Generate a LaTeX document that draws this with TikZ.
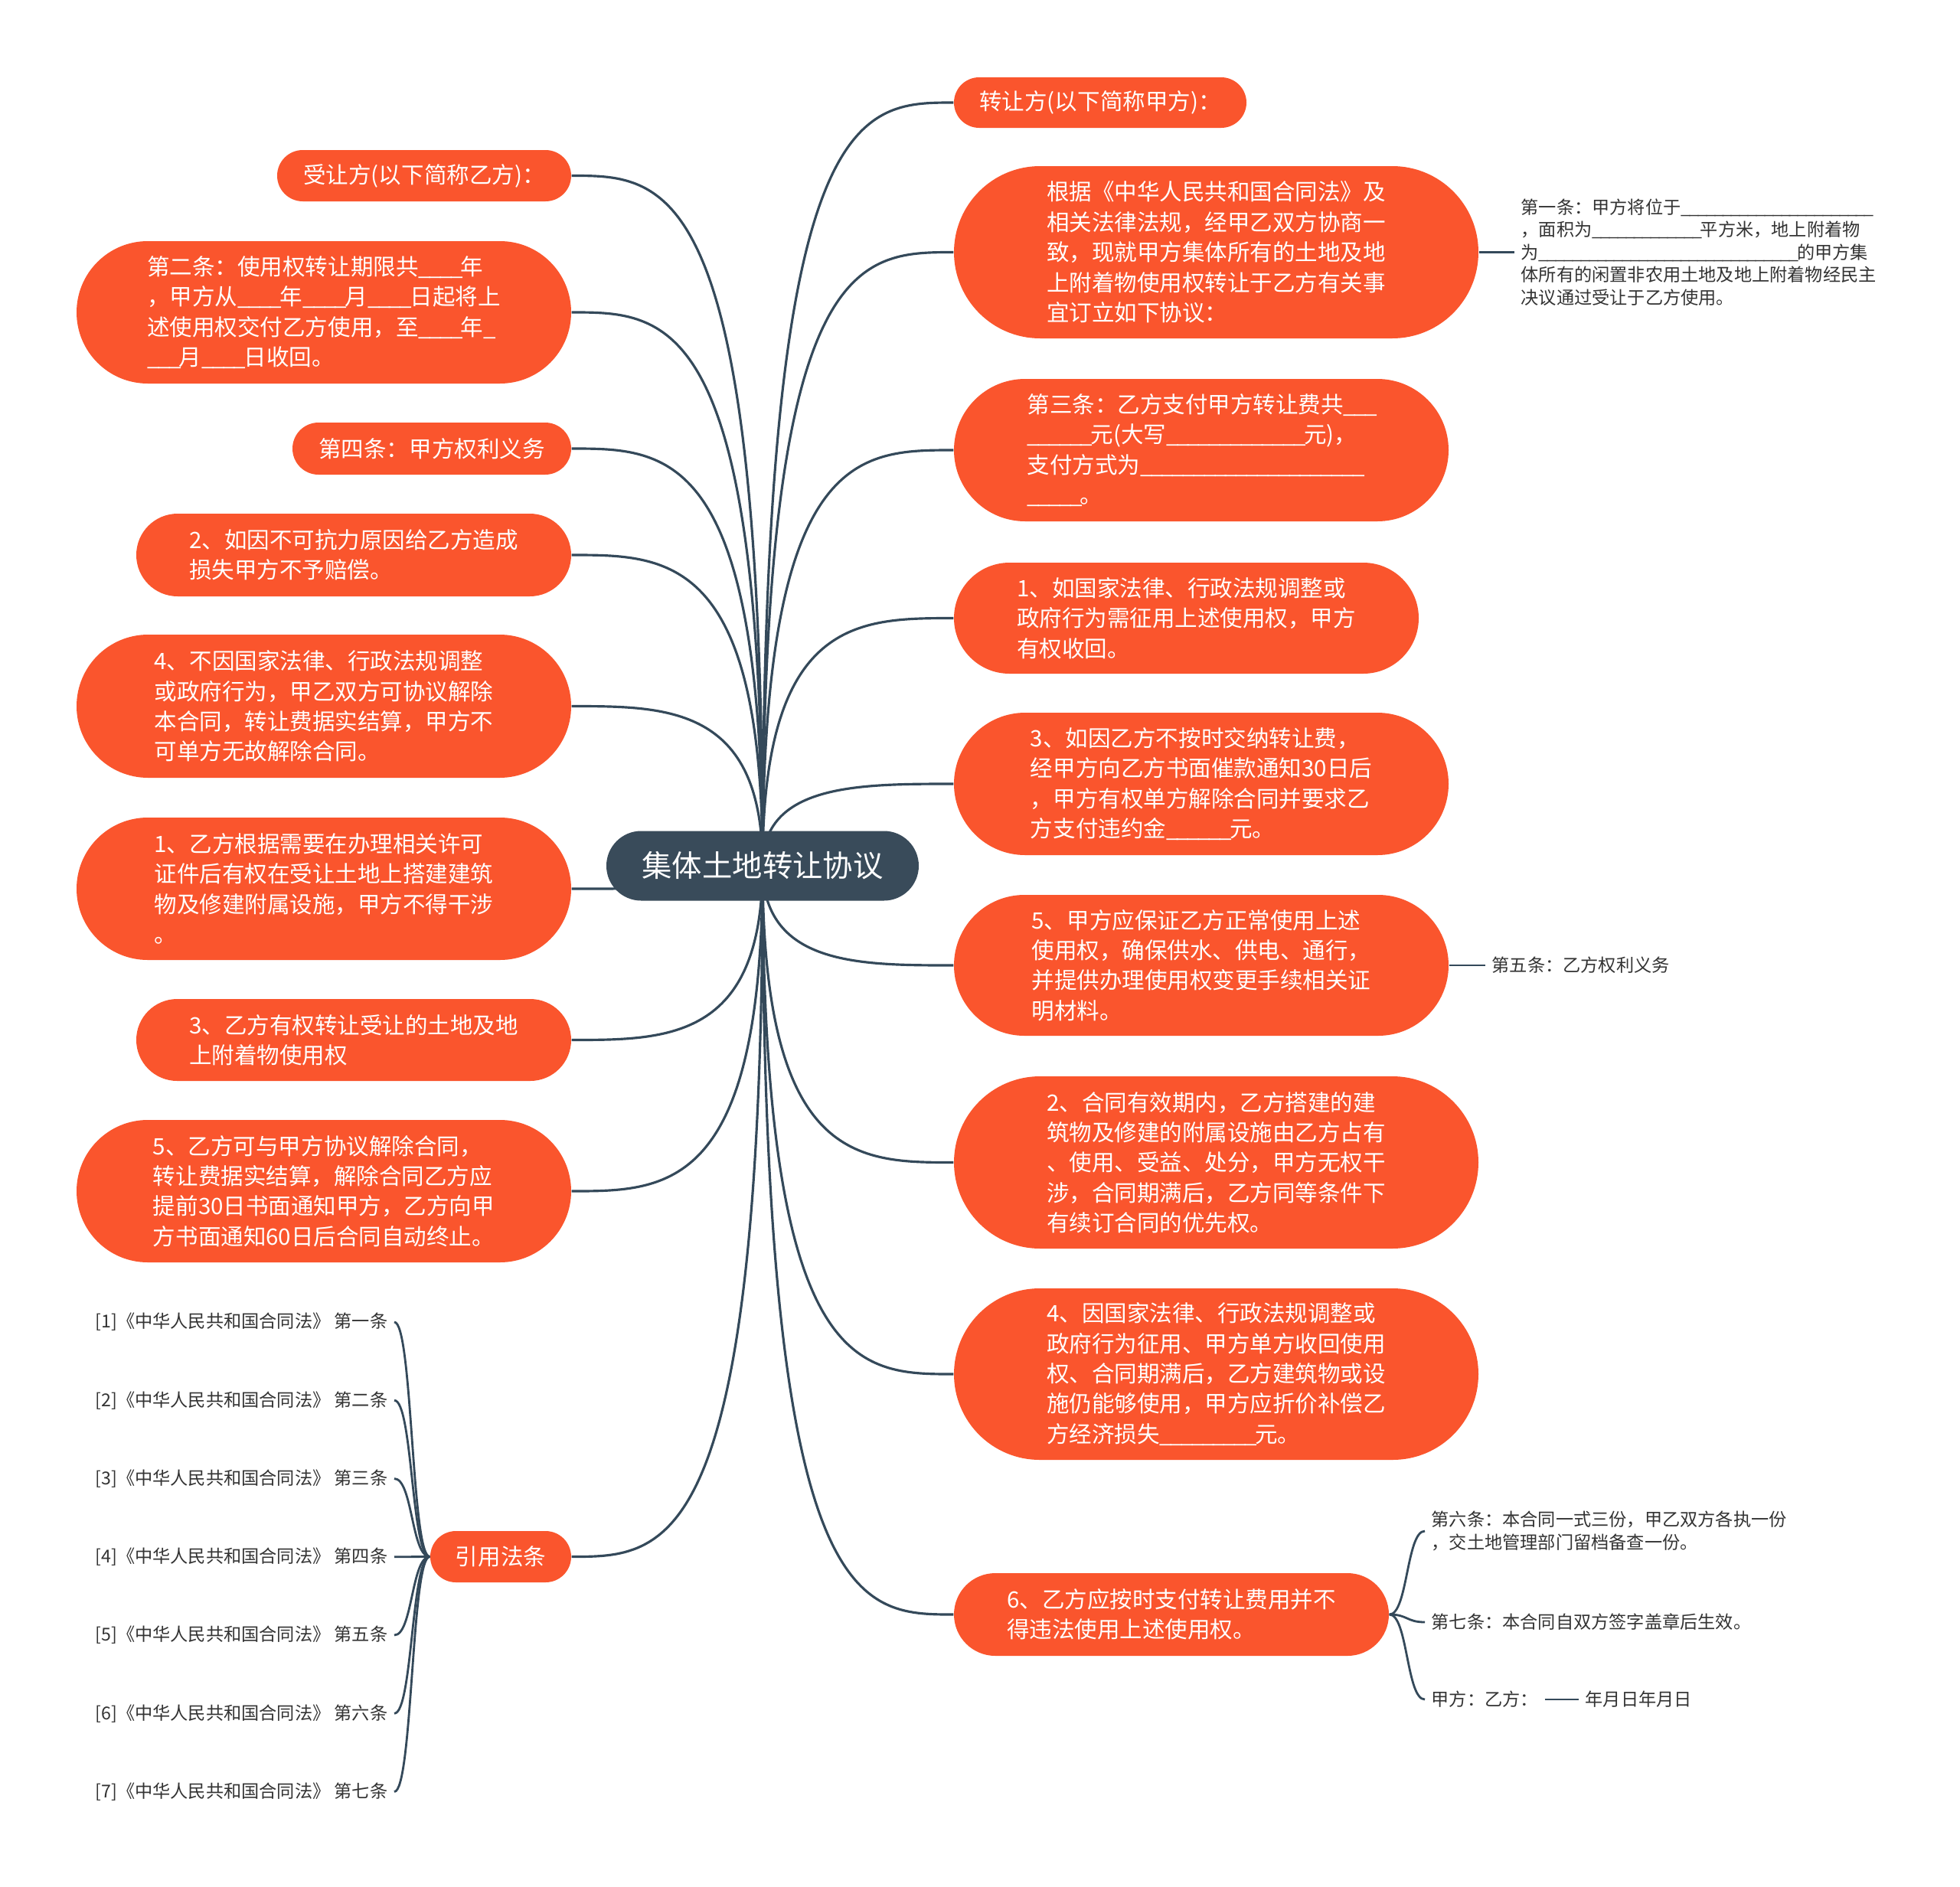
\documentclass[tikz,border=0pt]{standalone}
\usepackage{fontspec}
\setmainfont{Noto Sans CJK SC}
\usetikzlibrary{
  shapes.misc,
  calc,
  backgrounds
}
\definecolor{tdRoot}{HTML}{394B5A}
\definecolor{tdTopic}{HTML}{FA552D}
\definecolor{tdLine}{HTML}{34495A}
\definecolor{tdText}{HTML}{333333}
% a run of n underscores for the blanks of the contract
\newcommand\ublank[1]{\ifnum#1>0 \_\kern-0.09em\expandafter\ublank\expandafter{\the\numexpr#1-1\relax}\fi}
\newcommand\topicfont{\fontsize{8.4pt}{11.2pt}\selectfont}
\newcommand\leaffont{\fontsize{6.6pt}{8.4pt}\selectfont}
\tikzset{
  tdnode/.style={rounded rectangle, inner sep=0pt, align=left, text=white},
  rootnode/.style={tdnode, fill=tdRoot, font=\fontsize{11.2pt}{13pt}\selectfont,
    minimum width=4.08cm, minimum height=0.91cm},
  topic/.style 2 args={tdnode, fill=tdTopic, font=\topicfont,
    minimum width=#1cm, minimum height=#2cm},
  leaf/.style={inner sep=0.08cm, align=left, text=tdText, font=\leaffont},
  branch/.style={draw=tdLine, line width=0.9pt},
  twig/.style={draw=tdLine, line width=0.8pt}
}

\begin{document}
\begin{tikzpicture}
  \begin{scope}[on background layer]
    \path[use as bounding box, fill=white] (0,0) rectangle (25.6,-24.65);
  \end{scope}

  \node[rootnode] (root) at (9.96,-11.31) {集体土地转让协议};

  % right side
  \node[topic={3.82}{0.66}] (r1) at (14.37,-1.34) {转让方(以下简称甲方)：};
  \node[topic={6.85}{2.25}] (r2) at (15.885,-3.295) {根据《中华人民共和国合同法》及\\相关法律法规，经甲乙双方协商一\\致，现就甲方集体所有的土地及地\\上附着物使用权转让于乙方有关事\\宜订立如下协议：};
  \node[topic={6.46}{1.86}] (r3) at (15.69,-5.88) {第三条：乙方支付甲方转让费共\ublank{3}\\\ublank{6}元(大写\ublank{13}元)，\\支付方式为\ublank{21}\\\ublank{5}。};
  \node[topic={6.07}{1.45}] (r4) at (15.495,-8.075) {1、如国家法律、行政法规调整或\\政府行为需征用上述使用权，甲方\\有权收回。};
  \node[topic={6.46}{1.86}] (r5) at (15.69,-10.24) {3、如因乙方不按时交纳转让费，\\经甲方向乙方书面催款通知30日后\\，甲方有权单方解除合同并要求乙\\方支付违约金\ublank{6}元。};
  \node[topic={6.46}{1.84}] (r6) at (15.69,-12.61) {5、甲方应保证乙方正常使用上述\\使用权，确保供水、供电、通行，\\并提供办理使用权变更手续相关证\\明材料。};
  \node[topic={6.85}{2.25}] (r7) at (15.885,-15.185) {2、合同有效期内，乙方搭建的建\\筑物及修建的附属设施由乙方占有\\、使用、受益、处分，甲方无权干\\涉，合同期满后，乙方同等条件下\\有续订合同的优先权。};
  \node[topic={6.85}{2.24}] (r8) at (15.885,-17.95) {4、因国家法律、行政法规调整或\\政府行为征用、甲方单方收回使用\\权、合同期满后，乙方建筑物或设\\施仍能够使用，甲方应折价补偿乙\\方经济损失\ublank{9}元。};
  \node[topic={5.68}{1.08}] (r9) at (15.30,-21.09) {6、乙方应按时支付转让费用并不\\得违法使用上述使用权。};

  % left side
  \node[topic={3.84}{0.67}] (l1) at (5.54,-2.295) {受让方(以下简称乙方)：};
  \node[topic={6.46}{1.86}] (l2) at (4.23,-4.08) {第二条：使用权转让期限共\ublank{4}年\\，甲方从\ublank{4}年\ublank{4}月\ublank{4}日起将上\\述使用权交付乙方使用，至\ublank{4}年\ublank{1}\\\ublank{3}月\ublank{4}日收回。};
  \node[topic={3.64}{0.68}] (l3) at (5.64,-5.86) {第四条：甲方权利义务};
  \node[topic={5.68}{1.08}] (l4) at (4.62,-7.25) {2、如因不可抗力原因给乙方造成\\损失甲方不予赔偿。};
  \node[topic={6.46}{1.87}] (l5) at (4.23,-9.225) {4、不因国家法律、行政法规调整\\或政府行为，甲乙双方可协议解除\\本合同，转让费据实结算，甲方不\\可单方无故解除合同。};
  \node[topic={6.46}{1.86}] (l6) at (4.23,-11.61) {1、乙方根据需要在办理相关许可\\证件后有权在受让土地上搭建建筑\\物及修建附属设施，甲方不得干涉\\。};
  \node[topic={5.68}{1.07}] (l7) at (4.62,-13.585) {3、乙方有权转让受让的土地及地\\上附着物使用权};
  \node[topic={6.46}{1.86}] (l8) at (4.23,-15.56) {5、乙方可与甲方协议解除合同，\\转让费据实结算，解除合同乙方应\\提前30日书面通知甲方，乙方向甲\\方书面通知60日后合同自动终止。};
  \node[topic={1.84}{0.67}] (law) at (6.54,-20.335) {引用法条};

  % leaves
  \node[leaf, anchor=west] (art1) at (19.78,-3.295) {第一条：甲方将位于\ublank{23}\\，面积为\ublank{13}平方米，地上附着物\\为\ublank{31}的甲方集\\体所有的闲置非农用土地及地上附着物经民主\\决议通过受让于乙方使用。};
  \node[leaf, anchor=west] (art5) at (19.40,-12.61) {第五条：乙方权利义务};
  \node[leaf, anchor=west] (art6) at (18.61,-20.00) {第六条：本合同一式三份，甲乙双方各执一份\\，交土地管理部门留档备查一份。};
  \node[leaf, anchor=west] (art7) at (18.61,-21.19) {第七条：本合同自双方签字盖章后生效。};
  \node[leaf, anchor=west] (sign) at (18.61,-22.20) {甲方：乙方：};
  \node[leaf, anchor=west] (date) at (20.62,-22.20) {年月日年月日};
  \foreach \i/\ord in {1/一,2/二,3/三,4/四,5/五,6/六,7/七}
    \node[leaf, anchor=east] (cite\i) at (5.15,{-17.27-1.0225*(\i-1)}) {[\i]《中华人民共和国合同法》 第\ord 条};

  \begin{scope}[on background layer]
    \foreach \n in {r1,r2,r3,r4,r5,r6,r7,r8,r9}
      \draw[branch] (root.center) .. controls (root.center |- \n.west) and ($(root.center |- \n.west)!0.5!(\n.west)$) .. (\n.west);
    \foreach \n in {l1,l2,l3,l4,l5,l6,l7,l8,law}
      \draw[branch] (root.center) .. controls (root.center |- \n.east) and ($(root.center |- \n.east)!0.5!(\n.east)$) .. (\n.east);
    \draw[twig] (r2.east) -- (art1.west);
    \draw[twig] (r6.east) -- (art5.west);
    \foreach \n in {art6,art7,sign}
      \draw[twig] (r9.east) .. controls +(0.24,0) and +(-0.24,0) .. (\n.west);
    \draw[twig] (sign.east) -- (date.west);
    \foreach \i in {1,...,7}
      \draw[twig] (cite\i.east) .. controls +(0.24,0) and +(-0.24,0) .. (law.west);
  \end{scope}
\end{tikzpicture}
\end{document}
